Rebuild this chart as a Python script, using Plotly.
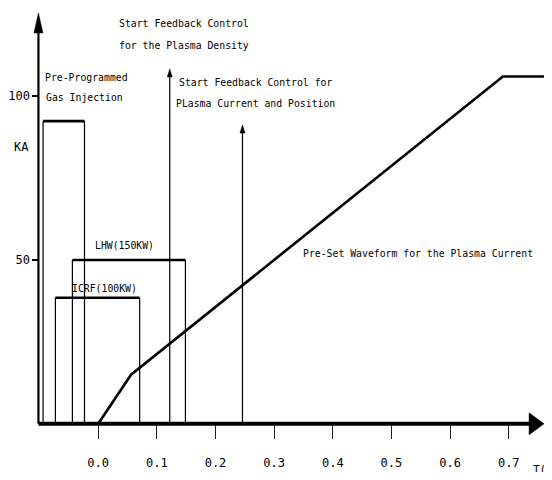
import plotly.graph_objects as go

# The page body has an 8px margin, so the figure is 544x472 and sits at (8, 8)
OFF = 8
W, H = 552 - 2 * OFF, 480 - 2 * OFF

# ---- data ----
t_ticks = [0.0, 0.1, 0.2, 0.3, 0.4, 0.5, 0.6, 0.7]
t_tick_labels = ["0.0", "0.1", "0.2", "0.3", "0.4", "0.5", "0.6", "0.7"]
i_ticks = [50, 100]
i_tick_labels = ["50", "100"]

wave_t = [0.0, 0.056, 0.69, 0.76]
wave_i = [0, 15, 106, 106]

heat_names = ["Gas", "ICRF(100KW)", "LHW(150KW)"]
heat_start = [-0.094, -0.073, -0.044]
heat_end = [-0.0234, 0.0707, 0.1487]
heat_level = [92.4, 38.5, 50.0]

feedback_t = [0.122, 0.246]
feedback_top = [108.3, 91.2]

t_axis = [-0.1019, 0.7601]
i_axis = [0, 125.4]

X_RANGE = [-0.14868, 0.76010]
Y_RANGE = [-14.70, 126.91]

PX_X = W / (X_RANGE[1] - X_RANGE[0])
PX_Y = H / (Y_RANGE[1] - Y_RANGE[0])

FONT = "DejaVu Sans Mono, Liberation Mono, monospace"


def xd(px):
    # page pixel -> data x
    return X_RANGE[0] + (px - OFF) / PX_X


def yd(py):
    # page pixel -> data y
    return Y_RANGE[1] - (py - OFF) / PX_Y


def head_up(tx, ty, length, width):
    xs = [tx, tx - width / 2 / PX_X, tx + width / 2 / PX_X, tx]
    ys = [ty, ty - length / PX_Y, ty - length / PX_Y, ty]
    return xs, ys


def head_right(tx, ty, length, width):
    xs = [tx, tx - length / PX_X, tx - length / PX_X, tx]
    ys = [ty, ty + width / 2 / PX_Y, ty - width / 2 / PX_Y, ty]
    return xs, ys


fig = go.Figure()
BLACK = "#000000"

# heating / gas boxes: sides thin, tops thick
for s, e, lv in zip(heat_start, heat_end, heat_level):
    fig.add_trace(go.Scatter(x=[s, s, None, e, e], y=[0, lv, None, lv, 0], mode="lines",
                             line=dict(color=BLACK, width=1.2), hoverinfo="skip"))
    fig.add_trace(go.Scatter(x=[s, e], y=[lv, lv], mode="lines",
                             line=dict(color=BLACK, width=2.6), hoverinfo="skip"))

# feedback arrows
for t, top in zip(feedback_t, feedback_top):
    fig.add_trace(go.Scatter(x=[t, t], y=[0, top - 4 / PX_Y], mode="lines",
                             line=dict(color=BLACK, width=1.2), hoverinfo="skip"))
    hx, hy = head_up(t, top, 8, 5)
    fig.add_trace(go.Scatter(x=hx, y=hy, mode="lines", fill="toself", fillcolor=BLACK,
                             line=dict(color=BLACK, width=0.5), hoverinfo="skip"))

# plasma current waveform
fig.add_trace(go.Scatter(x=wave_t, y=wave_i, mode="lines",
                         line=dict(color=BLACK, width=2.6), hoverinfo="skip"))

# axes
fig.add_trace(go.Scatter(x=[t_axis[0], t_axis[0]], y=[i_axis[0], i_axis[1] - 10 / PX_Y], mode="lines",
                         line=dict(color=BLACK, width=2.2), hoverinfo="skip"))
hx, hy = head_up(t_axis[0], i_axis[1], 20, 9)
fig.add_trace(go.Scatter(x=hx, y=hy, mode="lines", fill="toself", fillcolor=BLACK,
                         line=dict(color=BLACK, width=0.5), hoverinfo="skip"))
fig.add_trace(go.Scatter(x=[t_axis[0], t_axis[1] - 8 / PX_X], y=[0, 0], mode="lines",
                         line=dict(color=BLACK, width=4), hoverinfo="skip"))
hx, hy = head_right(t_axis[1], 0, 15, 22)
fig.add_trace(go.Scatter(x=hx, y=hy, mode="lines", fill="toself", fillcolor=BLACK,
                         line=dict(color=BLACK, width=0.5), hoverinfo="skip"))

# text labels (one annotation per line), positions in page pixels
texts = [
    ("Start Feedback Control", 115, 23, "left", 9.8),
    ("for the Plasma Density", 115, 45, "left", 9.8),
    ("Pre-Programmed", 40, 77, "left", 9.8),
    ("Gas Injection", 41, 97, "left", 9.8),
    ("Start Feedback Control for", 254, 82, "center", 9.8),
    ("PLasma Current and Position", 254, 103, "center", 9.8),
    ("LHW(150KW)", 122.5, 245, "center", 9.8),
    ("ICRF(100KW)", 102, 288, "center", 9.8),
    ("Pre-Set Waveform for the Plasma Current", 535, 253, "right", 9.8),
    ("KA", 19, 147, "center", 12),
    ("T(s)", 531, 469, "left", 11),
]
for txt, px, py, anc, sz in texts:
    fig.add_annotation(x=xd(px), y=yd(py), xref="x", yref="y", text=txt, showarrow=False,
                       xanchor=anc, yanchor="middle",
                       font=dict(family=FONT, size=sz, color=BLACK))

fig.update_layout(
    width=W, height=H,
    margin=dict(l=0, r=0, t=0, b=0),
    paper_bgcolor="white", plot_bgcolor="white",
    showlegend=False,
    xaxis=dict(range=X_RANGE, anchor="free", position=(0 - Y_RANGE[0]) / (Y_RANGE[1] - Y_RANGE[0]),
               tickvals=t_ticks, ticktext=t_tick_labels, ticks="outside", ticklen=14,
               tickwidth=1, tickcolor="#222", showgrid=False, zeroline=False, showline=False,
               ticklabelstandoff=14,
               tickfont=dict(family=FONT, size=12, color=BLACK)),
    yaxis=dict(range=Y_RANGE, anchor="free", position=(t_axis[0] - X_RANGE[0]) / (X_RANGE[1] - X_RANGE[0]),
               tickvals=i_ticks, ticktext=i_tick_labels, ticks="outside", ticklen=6,
               tickwidth=1.5, tickcolor=BLACK, showgrid=False, zeroline=False, showline=False,
               tickfont=dict(family=FONT, size=12, color=BLACK)),
)

fig.write_html("out.html")
